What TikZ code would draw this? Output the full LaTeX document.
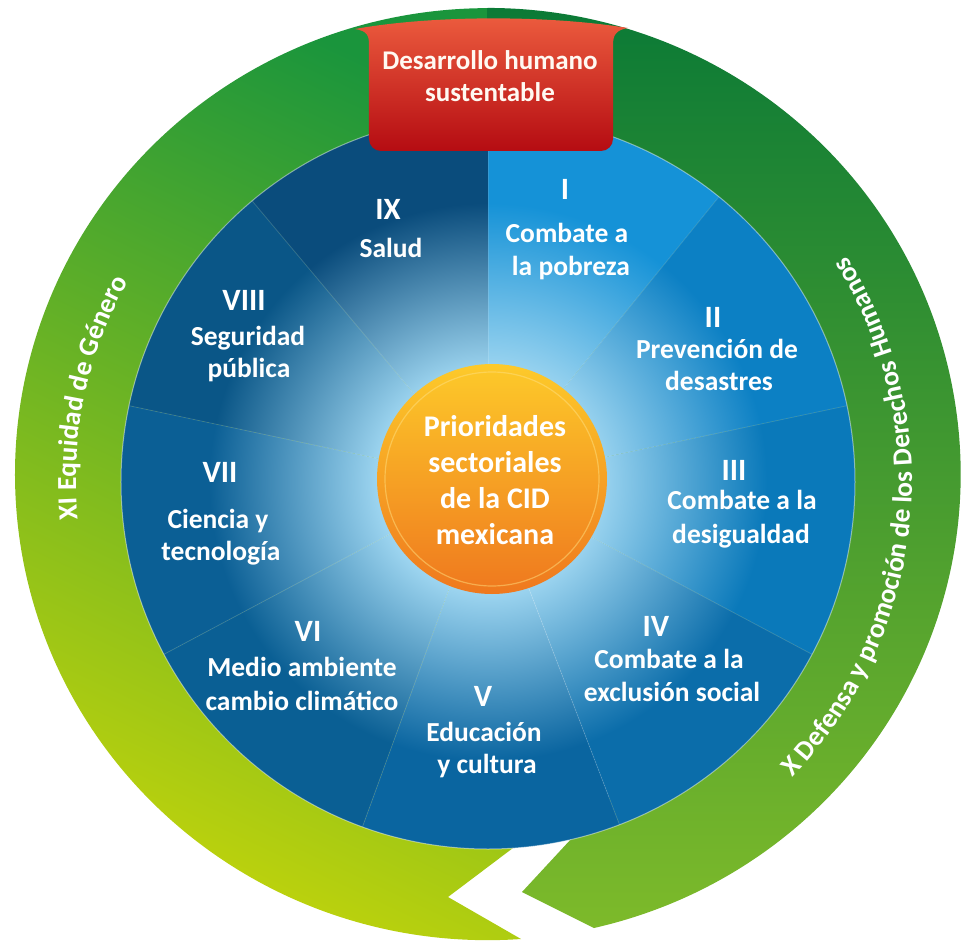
\documentclass[tikz,border=0pt]{standalone}
\usepackage{fontspec}
\setmainfont{Carlito}[UprightFont=* Bold, BoldFont=* Bold]
\usetikzlibrary{decorations.text}

\definecolor{secI}{HTML}{1592D7}
\definecolor{secII}{HTML}{0C80C4}
\definecolor{secIII}{HTML}{0A79BA}
\definecolor{secIV}{HTML}{0B6DAA}
\definecolor{secV}{HTML}{0A65A0}
\definecolor{secVI}{HTML}{0A5F94}
\definecolor{secVII}{HTML}{0B5F95}
\definecolor{secVIII}{HTML}{0A5687}
\definecolor{secIX}{HTML}{0A4C7C}
\definecolor{glowc}{HTML}{9DD5F0}
\definecolor{ringtop}{HTML}{1A953C}
\definecolor{ringmidL}{HTML}{66B42E}
\definecolor{ringlowL}{HTML}{C2D40B}
\definecolor{ringdark}{HTML}{0B7A36}
\definecolor{ringmidR}{HTML}{148B3A}
\definecolor{ringlowR}{HTML}{7DBA2A}
\definecolor{orangetop}{HTML}{FDCA2A}
\definecolor{orangebot}{HTML}{EF781E}
\definecolor{bannertop}{HTML}{EC5C3E}
\definecolor{bannermid}{HTML}{E0261E}
\definecolor{bannerbot}{HTML}{B50C12}
\colorlet{secouter}{secI}

\pgfdeclareradialshading[secouter]{sectorglow}{\pgfpointorigin}{color(0bp)=(glowc); color(7.5bp)=(glowc); color(19bp)=(secouter); color(50bp)=(secouter)}

\newcommand{\ringfont}{\fontsize{27.5}{30}\selectfont}

\tikzset{
  numtext/.style={font=\fontsize{31}{31}\selectfont, text=white, anchor=base, inner sep=0pt},
  sectext/.style={font=\fontsize{27.5}{33}\selectfont, text=white, anchor=base, inner sep=0pt},
  cidtext/.style={font=\fontsize{30}{36}\selectfont, text=white, align=center, inner sep=0pt},
  bannertext/.style={font=\fontsize{27}{32}\selectfont, text=white!95!orange, align=center, inner sep=0pt},
  secline/.style={white, opacity=.15, line width=.8pt},
  ringleft/.style={top color=ringtop, middle color=ringmidL, bottom color=ringlowL, shading angle=-25},
  ringright/.style={top color=ringdark, middle color=ringmidR, bottom color=ringlowR},
  ringlabel/.style={decorate, decoration={text effects along path, text={#1}, text align=center,
    text effects/.cd, text along path, characters={text=white, font=\ringfont, inner sep=0pt}}},
}

\begin{document}
\begin{tikzpicture}[x=1pt,y=1pt]
\useasboundingbox (-488,-461) rectangle (486,482);

% green ring, two arrows
\shade[ringleft] (0,0) -- (90,-317) -- (25,-366) -- (-40,-415) -- (33,-457)
  arc[start angle=-86, end angle=-270, x radius=473, y radius=466] -- cycle;
\shade[ringright] (0,0) -- (134,-302) -- (84,-356) -- (34,-410) -- (106,-446)
  arc[start angle=-77, end angle=90, x radius=473, y radius=466] -- cycle;

% blue sectors
\foreach \a/\b/\c in {51/90/secI, 12/51/secII, -28/12/secIII, -69/-28/secIV, -110/-69/secV,
  -152/-110/secVI, -192/-152/secVII, -230/-192/secVIII, -270/-230/secIX}
{
  \begin{scope}
    \clip (0,0) -- (\a:367) arc[start angle=\a, end angle=\b, radius=367] -- cycle;
    \colorlet{secouter}{\c}
    \shade[shading=sectorglow] (0,0) circle (367);
  \end{scope}
}
\foreach \a in {90,51,12,-28,-69,-110,-152,168,130}
  \draw[secline] (0,0) -- (\a:367);
\draw[white, opacity=.45, line width=1pt] (0,0) circle (367);

% centre
\shade[top color=orangetop, bottom color=orangebot] (4,3) circle (115);
\draw[orangetop!60!white, opacity=.5, line width=1.2pt] (4,3) circle (107);
\node[cidtext] (cid) at (7,2) {Prioridades\\sectoriales\\de la CID\\mexicana};

% banner
\shade[top color=bannertop, middle color=bannermid, bottom color=bannerbot]
  (-133,453) .. controls (-121,451) and (-119,447) .. (-119,437) -- (-119,343)
  arc[start angle=180, end angle=270, radius=12] -- (113,331)
  arc[start angle=270, end angle=360, radius=12] -- (125,437)
  .. controls (125,447) and (128,452) .. (140,454)
  .. controls (60,467) and (-55,467) .. (-133,453) -- cycle;
\node[bannertext] (desarrollo) at (2,406) {Desarrollo humano\\sustentable};

% numerals
\foreach \n/\x/\y in {I/77/282, II/225/155, III/246/2, IV/168/-154, V/-5/-224,
  VI/-180/-159, VII/-268/0, VIII/-244/172, IX/-100/262}
  \node[numtext] (num\n) at (\x,\y) {\n};

% sector names
\foreach \x/\y/\t [count=\i] in {79/240/Combate a, 83/207/la pobreza,
  229/124/Prevención de, 231/92/desastres,
  254/-27/Combate a la, 253/-61/desigualdad,
  181/-186/Combate a la, 184/-219/exclusión social,
  -4/-259/Educación, -1/-291/y cultura,
  -186/-194/Medio ambiente, -186/-228/cambio climático,
  -270/-46/Ciencia y, -267/-78/tecnología,
  -240/137/Seguridad, -239/105/pública,
  -97/225/Salud}
  \node[sectext] (name\i) at (\x,\y) {\t};

% ring labels
\path[ringlabel={XI Equidad de Género}]
  (190:412) arc[start angle=190, end angle=146, radius=412];
\path[ringlabel={X Defensa y promoción de los Derechos Humanos}]
  (-50:424) arc[start angle=-50, end angle=38, radius=424];
\end{tikzpicture}
\end{document}
